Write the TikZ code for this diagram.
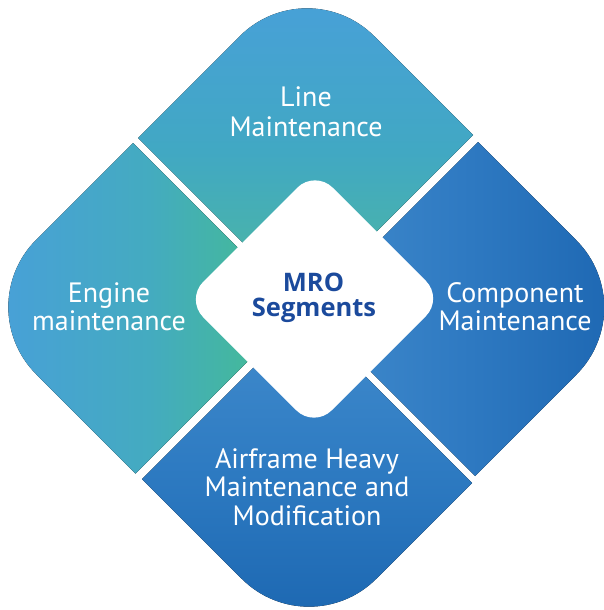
\documentclass[tikz,border=0pt]{standalone}
\usepackage{fontspec}
\setmainfont{PT Sans}
\newfontfamily\mrofont{Open Sans}
\usetikzlibrary{calc}
\definecolor{tTop}{HTML}{48A0D8}
\definecolor{tMid}{HTML}{41A8C3}
\definecolor{tBot}{HTML}{4DB99E}
\definecolor{lLeft}{HTML}{48A0D8}
\definecolor{lMid}{HTML}{44ABC0}
\definecolor{lRight}{HTML}{44BF8A}
\definecolor{rLeft}{HTML}{418BCC}
\definecolor{rMid}{HTML}{2F7AC2}
\definecolor{rRight}{HTML}{1E68B3}
\definecolor{bTop}{HTML}{428CCD}
\definecolor{bMid}{HTML}{2E7BC2}
\definecolor{bBot}{HTML}{1D68B2}
\definecolor{mroblue}{HTML}{1B4A9C}
\tikzset{
  lbl/.style={text=white, font=\fontsize{28}{30}\selectfont, anchor=base, inner sep=0pt},
  mrolbl/.style={text=mroblue, font=\mrofont\bfseries\fontsize{25.5}{28}\selectfont, anchor=base, inner sep=0pt},
  topgrad/.style={top color=tTop, bottom color=tBot, middle color=tMid},
  leftgrad/.style={left color=lLeft, right color=lRight, middle color=lMid},
  rightgrad/.style={left color=rLeft, right color=rRight, middle color=rMid},
  botgrad/.style={top color=bTop, bottom color=bBot, middle color=bMid},
}
\begin{document}
\begin{tikzpicture}[x=1pt,y=-1pt]
\useasboundingbox (0,0) rectangle (604,610);
\fill[white] (0,0) rectangle (604,610);
% top quadrant
\coordinate (TA) at (138,138);
\coordinate (TO) at (307,-31);
\coordinate (TB) at (473,135);
\coordinate (TI) at (304,304);
\fill[topgrad] (TA) -- ($(TO)!95pt!(TA)$) .. controls ($(TO)!42.5pt!(TA)$) and ($(TO)!42.5pt!(TB)$) .. ($(TO)!95pt!(TB)$) -- (TB) -- (TI) -- cycle;
% left quadrant
\coordinate (LA) at (133,143);
\coordinate (LO) at (-31,307);
\coordinate (LB) at (135.5,473.5);
\coordinate (LI) at (299.5,309.5);
\fill[leftgrad] (LA) -- ($(LO)!95pt!(LA)$) .. controls ($(LO)!42.5pt!(LA)$) and ($(LO)!42.5pt!(LB)$) .. ($(LO)!95pt!(LB)$) -- (LB) -- (LI) -- cycle;
% bottom quadrant
\coordinate (BA) at (142,479);
\coordinate (BO) at (309,646);
\coordinate (BB) at (472,483);
\coordinate (BI) at (305,316);
\fill[botgrad] (BA) -- ($(BO)!95pt!(BA)$) .. controls ($(BO)!42.5pt!(BA)$) and ($(BO)!42.5pt!(BB)$) .. ($(BO)!95pt!(BB)$) -- (BB) -- (BI) -- cycle;
% right quadrant
\coordinate (RA) at (478,142);
\coordinate (RO) at (643.5,307.5);
\coordinate (RB) at (475,476);
\coordinate (RI) at (309.5,310.5);
\fill[rightgrad] (RA) -- ($(RO)!95pt!(RA)$) .. controls ($(RO)!42.5pt!(RA)$) and ($(RO)!42.5pt!(RB)$) .. ($(RO)!95pt!(RB)$) -- (RB) -- (RI) -- cycle;
% centre diamond
\coordinate (CT) at (315,170);
\coordinate (CR) at (443.5,298.5);
\coordinate (CB) at (314,428);
\coordinate (CL) at (185.5,299.5);
\fill[white, rounded corners=25pt] (CT) -- (CR) -- (CB) -- (CL) -- cycle;
% labels
\node[lbl] (line1) at (306,106.7) {Line};
\node[lbl] (line2) at (306,136.7) {Maintenance};
\node[lbl] (eng1) at (109,302) {Engine};
\node[lbl] (eng2) at (109,330.5) {maintenance};
\node[lbl] (comp1) at (515,302.5) {Component};
\node[lbl] (comp2) at (515,330.5) {Maintenance};
\node[lbl] (air1) at (307,468.3) {Airframe Heavy};
\node[lbl] (air2) at (307,496.7) {Maintenance and};
\node[lbl] (air3) at (307,525) {Modification};
\node[mrolbl] (mro1) at (313.5,291.7) {MRO};
\node[mrolbl] (mro2) at (314,316.7) {Segments};
\end{tikzpicture}
\end{document}
